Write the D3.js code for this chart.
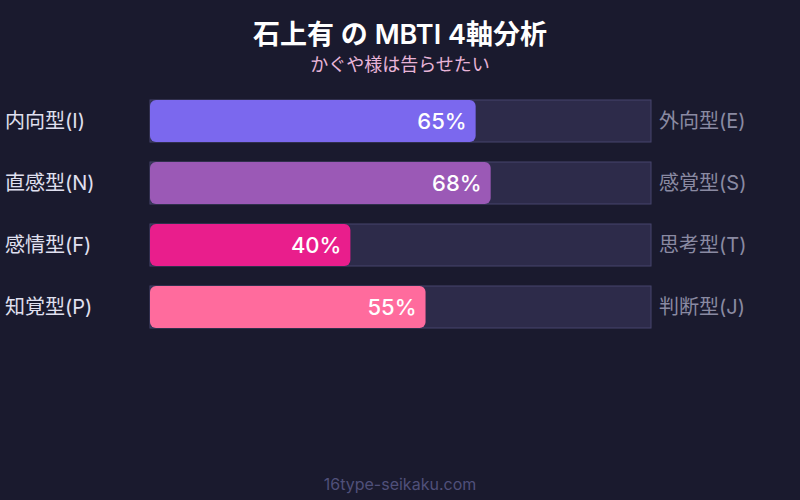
<!DOCTYPE html>
<html>
<head>
<meta charset="utf-8">
<script src="https://cdn.jsdelivr.net/npm/d3@7"></script>
<style>
  html, body { margin: 0; padding: 0; background: #1a1a2e; }
  svg { display: block; font-family: Inter, "Noto Sans CJK JP", sans-serif; }
</style>
</head>
<body>
<svg id="chart" width="800" height="500"></svg>
<script>
'use strict';

const leftLabels = ['内向型(I)', '直感型(N)', '感情型(F)', '知覚型(P)'];
const rightLabels = ['外向型(E)', '感覚型(S)', '思考型(T)', '判断型(J)'];
const values = [65, 68, 40, 55];
const barColors = ['#7b68ee', '#9b59b6', '#e91e8c', '#ff6b9d'];

const width = 800, height = 500;
const margin = {top: 100, left: 150, right: 149};
const rowStep = 62, barHeight = 42;

const svg = d3.select('#chart');

svg.append('rect')
    .attr('width', width)
    .attr('height', height)
    .attr('fill', '#1a1a2e');

// Title
svg.append('text')
    .attr('x', width / 2)
    .attr('y', 44)
    .attr('text-anchor', 'middle')
    .attr('fill', '#ffffff')
    .attr('font-size', 27)
    .attr('font-weight', 600)
    .text('石上有 の MBTI 4軸分析');

svg.append('text')
    .attr('x', width / 2)
    .attr('y', 71)
    .attr('text-anchor', 'middle')
    .attr('fill', '#e8b4d8')
    .attr('font-size', 18)
    .text('かぐや様は告らせたい');

var x = d3.scaleLinear()
    .domain([0, 100])
    .range([margin.left, width - margin.right]);

var y = d3.scaleBand()
    .domain(d3.range(values.length))
    .range([margin.top, margin.top + rowStep * values.length - (rowStep - barHeight)])
    .paddingInner((rowStep - barHeight) / rowStep)
    .paddingOuter(0);

var rows = svg.selectAll('.row')
    .data(values)
    .enter().append('g')
    .attr('class', 'row');

// Track
rows.append('rect')
    .attr('x', x(0))
    .attr('y', function(d, i) { return y(i); })
    .attr('width', x(100) - x(0))
    .attr('height', y.bandwidth())
    .attr('fill', '#2d2b4a')
    .attr('stroke', '#46446c')
    .attr('stroke-width', 1);

// Bars
rows.append('rect')
    .attr('x', x(0))
    .attr('y', function(d, i) { return y(i); })
    .attr('width', function(d) { return x(d) - x(0); })
    .attr('height', y.bandwidth())
    .attr('rx', 6)
    .attr('fill', function(d, i) { return barColors[i]; });

// Value labels
rows.append('text')
    .attr('x', function(d) { return x(d) - 9; })
    .attr('y', function(d, i) { return y(i) + y.bandwidth() / 2; })
    .attr('dy', '0.36em')
    .attr('text-anchor', 'end')
    .attr('fill', '#ffffff')
    .attr('font-size', 22)
    .attr('font-weight', 500)
    .text(function(d) { return d + '%'; });

// Left labels
rows.append('text')
    .attr('x', 5)
    .attr('y', function(d, i) { return y(i) + y.bandwidth() / 2; })
    .attr('dy', '0.36em')
    .attr('fill', '#e0e0f0')
    .attr('font-size', 20)
    .text(function(d, i) { return leftLabels[i]; });

// Right labels
rows.append('text')
    .attr('x', x(100) + 8)
    .attr('y', function(d, i) { return y(i) + y.bandwidth() / 2; })
    .attr('dy', '0.36em')
    .attr('fill', '#8a8aa2')
    .attr('font-size', 20)
    .text(function(d, i) { return rightLabels[i]; });

// Footer
svg.append('text')
    .attr('x', width / 2)
    .attr('y', 490)
    .attr('text-anchor', 'middle')
    .attr('fill', '#50507a')
    .attr('font-size', 16)
    .text('16type-seikaku.com');
</script>
</body>
</html>
